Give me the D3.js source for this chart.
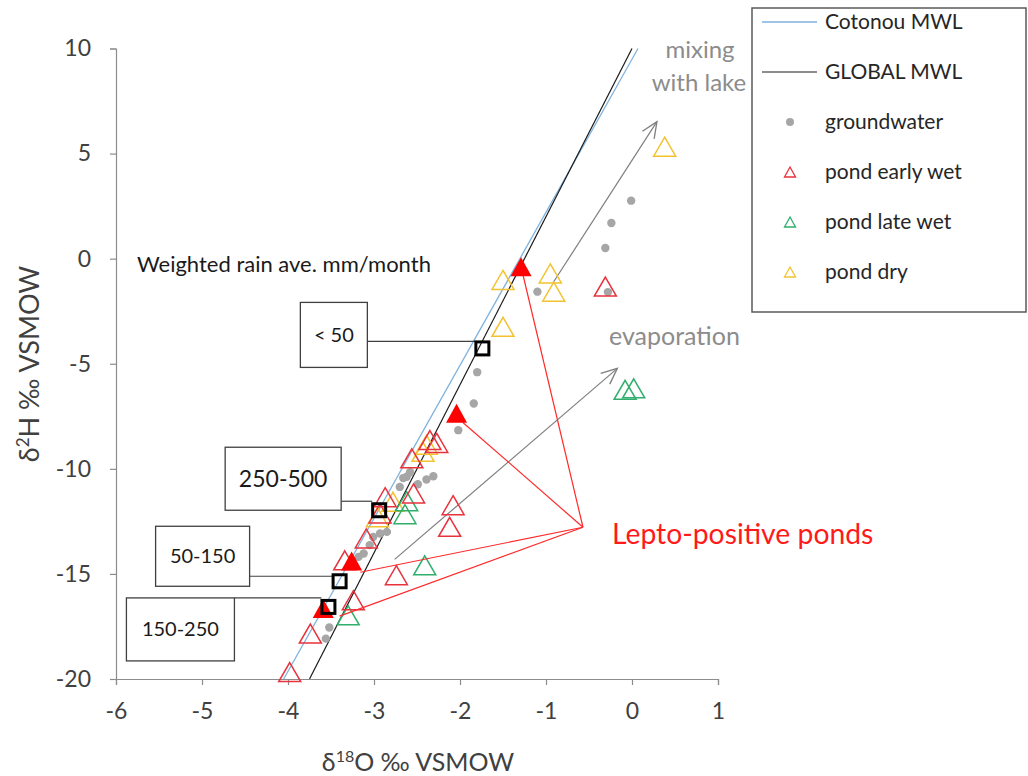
<!DOCTYPE html>
<html><head><meta charset="utf-8">
<script src="https://cdn.jsdelivr.net/npm/d3@7"></script>
<style>body{margin:0;background:#fff}svg{display:block;font-family:Lato,"Open Sans",sans-serif}</style>
</head><body><svg id="c" width="1028" height="776"></svg>
<script>
// ---- data ----
const xTicks = [-6, -5, -4, -3, -2, -1, 0, 1];
const yTicks = [-20, -15, -10, -5, 0, 5, 10];
const cotonouMWL = [[-4.05, -20], [0.07, 10]];
const globalMWL = [[-3.75, -20], [0, 10]];
const groundwater = [
  [-0.01, 2.76], [-0.24, 1.70], [-0.31, 0.51], [-0.28, -1.59], [-1.10, -1.57],
  [-1.80, -5.40], [-1.84, -6.89], [-2.02, -8.16], [-2.31, -10.35], [-2.39, -10.51],
  [-2.49, -10.73], [-2.66, -10.44], [-2.70, -10.86], [-2.62, -10.38], [-2.58, -10.16],
  [-2.85, -13.00], [-2.93, -13.08], [-3.01, -13.24], [-3.05, -13.63], [-3.12, -14.03],
  [-3.18, -14.19], [-3.52, -17.55], [-3.56, -18.08]
];
const pondEarlyWet = [
  [-2.35, -8.63], [-2.27, -8.77], [-2.56, -9.50], [-2.54, -11.17], [-2.08, -11.73],
  [-2.12, -12.76], [-2.87, -11.35], [-2.93, -12.12], [-3.09, -13.31], [-3.34, -14.35],
  [-2.74, -15.06], [-3.24, -16.25], [-3.74, -17.84], [-3.98, -19.67], [-0.31, -1.33]
];
const pondLateWet = [
  [-0.08, -6.24], [0.02, -6.17], [-2.41, -14.59], [-3.30, -16.97], [-2.64, -12.16], [-2.62, -11.54]
];
const pondDry = [
  [0.38, 5.33], [-1.50, -1.01], [-0.95, -0.70], [-0.91, -1.57], [-1.50, -3.24],
  [-2.43, -9.19], [-2.39, -8.85], [-2.78, -11.57], [-2.96, -12.30]
];
const leptoPositive = [[-1.29, -0.38], [-2.04, -7.36], [-3.26, -14.38], [-3.59, -16.65]];
const rainLabels = ["< 50", "250-500", "50-150", "150-250"];
const rainPoints = [[-1.74, -4.27], [-2.94, -11.97], [-3.40, -15.35], [-3.53, -16.57]];
const leptoLineOrigin = [-0.57, -12.78];
const leptoLineEnds = [[-1.27, -0.73], [-1.97, -7.78], [-3.16, -14.92], [-3.40, -17.01]];
const mixingArrow = [[-0.92, -1.16], [0.29, 6.52]];
const evapArrow = [[-2.76, -14.31], [-0.17, -5.22]];
const legendLabels = ["Cotonou MWL", "GLOBAL MWL", "groundwater", "pond early wet", "pond late wet", "pond dry"];

// ---- chart ----
const svg = d3.select("#c");
const x = d3.scaleLinear().domain([-6, 1]).range([116, 718]);
const y = d3.scaleLinear().domain([-20, 10]).range([679, 48.5]);
const C = {red: "#e8323c", green: "#2fae6c", yellow: "#f2c230", gray: "#a6a6a6", blue: "#7fb2de", fill: "#ff0000"};

const tri = (w, h) => `M0,${-h/2}L${w/2},${h/2}L${-w/2},${h/2}Z`;
const fmt = d => String(d);

// axes
const xAxis = svg.append("g").attr("transform", `translate(0,${y(-20)})`)
  .call(d3.axisBottom(x).tickValues(xTicks).tickFormat(fmt).tickSize(6).tickPadding(18));
const yAxis = svg.append("g").attr("transform", `translate(${x(-6)},0)`)
  .call(d3.axisLeft(y).tickValues(yTicks).tickFormat(fmt).tickSize(6).tickPadding(19));
[xAxis, yAxis].forEach(a => {
  a.selectAll("path,line").attr("stroke", "#8c8c8c").attr("stroke-width", 1.2);
  a.selectAll("text").attr("fill", "#404040").style("font-size", "23px").style("font-family", "Lato,sans-serif");
});

svg.append("text").attr("x", 418).attr("y", 771).attr("text-anchor", "middle")
  .style("font-size", "25px").attr("fill", "#404040")
  .html('δ<tspan baseline-shift="super" font-size="16">18</tspan>O ‰ VSMOW');
svg.append("text").attr("transform", "translate(39,364) rotate(-90)").attr("text-anchor", "middle")
  .style("font-size", "27px").attr("fill", "#404040")
  .html('δ<tspan baseline-shift="super" font-size="17">2</tspan>H ‰ VSMOW');

// MWL lines
const line = d3.line().x(d => x(d[0])).y(d => y(d[1]));
svg.append("path").attr("d", line(cotonouMWL)).attr("stroke", C.blue).attr("stroke-width", 1.3).attr("fill", "none");
svg.append("path").attr("d", line(globalMWL)).attr("stroke", "#1a1a1a").attr("stroke-width", 1.2).attr("fill", "none");

// arrows
const defs = svg.append("defs");
defs.append("marker").attr("id", "ah").attr("viewBox", "0 0 20 20").attr("refX", 18).attr("refY", 10)
  .attr("markerWidth", 20).attr("markerHeight", 20).attr("markerUnits", "userSpaceOnUse").attr("orient", "auto")
  .append("path").attr("d", "M2,3L18,10L2,17").attr("fill", "none").attr("stroke", "#7f7f7f").attr("stroke-width", 1.3);
[mixingArrow, evapArrow].forEach(a => svg.append("path").attr("d", line(a)).attr("stroke", "#7f7f7f")
  .attr("stroke-width", 1.2).attr("fill", "none").attr("marker-end", "url(#ah)"));

// groundwater
svg.append("g").selectAll("circle").data(groundwater).join("circle")
  .attr("cx", d => x(d[0])).attr("cy", d => y(d[1])).attr("r", 4.2).attr("fill", C.gray);

// ponds
function tris(data, color) {
  svg.append("g").selectAll("path").data(data).join("path")
    .attr("d", tri(22, 19)).attr("transform", d => `translate(${x(d[0])},${y(d[1])})`)
    .attr("fill", "none").attr("stroke", color).attr("stroke-width", 1.5);
}
tris(pondDry, C.yellow);
tris(pondLateWet, C.green);
tris(pondEarlyWet, C.red);

// lepto lines
leptoLineEnds.forEach(e => svg.append("path").attr("d", line([leptoLineOrigin, e]))
  .attr("stroke", "#ff2a2a").attr("stroke-width", 1.2).attr("fill", "none"));

// filled lepto triangles
svg.append("g").selectAll("path").data(leptoPositive).join("path")
  .attr("d", tri(21, 19)).attr("transform", d => `translate(${x(d[0])},${y(d[1])})`).attr("fill", C.fill);

// rain callouts
const boxes = [
  {w: 67, h: 65, dx: -182, dy: -46, fs: 20, ly: -7},
  {w: 116, h: 63, dx: -154, dy: -63, fs: 23, ly: -9},
  {w: 94, h: 60, dx: -184, dy: -55, fs: 20, ly: -5},
  {w: 108, h: 63, dx: -202, dy: -9, fs: 20, ly: -9}
];
rainPoints.forEach((p, i) => {
  const b = boxes[i], px = x(p[0]), py = y(p[1]);
  const bx = px + b.dx, by = py + b.dy;
  svg.append("path").attr("d", `M${bx + b.w},${py + b.ly}H${px - 7}`).attr("stroke", "#404040").attr("stroke-width", 1.2);
  svg.append("rect").attr("x", bx).attr("y", by).attr("width", b.w).attr("height", b.h)
    .attr("fill", "#fff").attr("stroke", "#404040").attr("stroke-width", 1.3);
  svg.append("text").attr("x", bx + b.w / 2).attr("y", by + b.h / 2).attr("dy", "0.35em").attr("text-anchor", "middle")
    .style("font-size", b.fs + "px").attr("fill", "#1a1a1a").text(rainLabels[i]);
  svg.append("rect").attr("x", px - 6.5).attr("y", py - 6.5).attr("width", 13).attr("height", 13)
    .attr("fill", "none").attr("stroke", "#000").attr("stroke-width", 3);
});

// text annotations
svg.append("text").attr("x", 137).attr("y", 272).style("font-size", "22px").attr("fill", "#1a1a1a").text("Weighted rain ave. mm/month");
svg.append("text").attr("x", 612).attr("y", 544).style("font-size", "28.3px").attr("fill", "#ff1a1a").text("Lepto-positive ponds");
svg.append("text").attr("x", 609).attr("y", 345).style("font-size", "25px").attr("fill", "#8c8c8c").text("evaporation");
const mt = svg.append("text").style("font-size", "24px").attr("fill", "#8c8c8c").attr("text-anchor", "middle");
mt.append("tspan").attr("x", 700).attr("y", 58).text("mixing");
mt.append("tspan").attr("x", 699).attr("y", 91).text("with lake");

// legend
const lg = svg.append("g");
lg.append("rect").attr("x", 752).attr("y", 8).attr("width", 274).attr("height", 304)
  .attr("fill", "#fff").attr("stroke", "#595959").attr("stroke-width", 1.5);
legendLabels.forEach((t, i) => {
  const ly = 22 + i * 50;
  if (i === 0) lg.append("line").attr("x1", 762).attr("x2", 817).attr("y1", ly).attr("y2", ly).attr("stroke", C.blue).attr("stroke-width", 1.3);
  if (i === 1) lg.append("line").attr("x1", 762).attr("x2", 817).attr("y1", ly).attr("y2", ly).attr("stroke", "#1a1a1a").attr("stroke-width", 1.2);
  if (i === 2) lg.append("circle").attr("cx", 790).attr("cy", ly).attr("r", 4).attr("fill", C.gray);
  if (i >= 3) lg.append("path").attr("d", tri(11, 10)).attr("transform", `translate(790,${ly})`)
    .attr("fill", "none").attr("stroke", [C.red, C.green, C.yellow][i - 3]).attr("stroke-width", 1.3);
  lg.append("text").attr("x", 825).attr("y", ly).attr("dy", "0.35em").style("font-size", "21px").attr("fill", "#262626").text(t);
});
</script></body></html>
